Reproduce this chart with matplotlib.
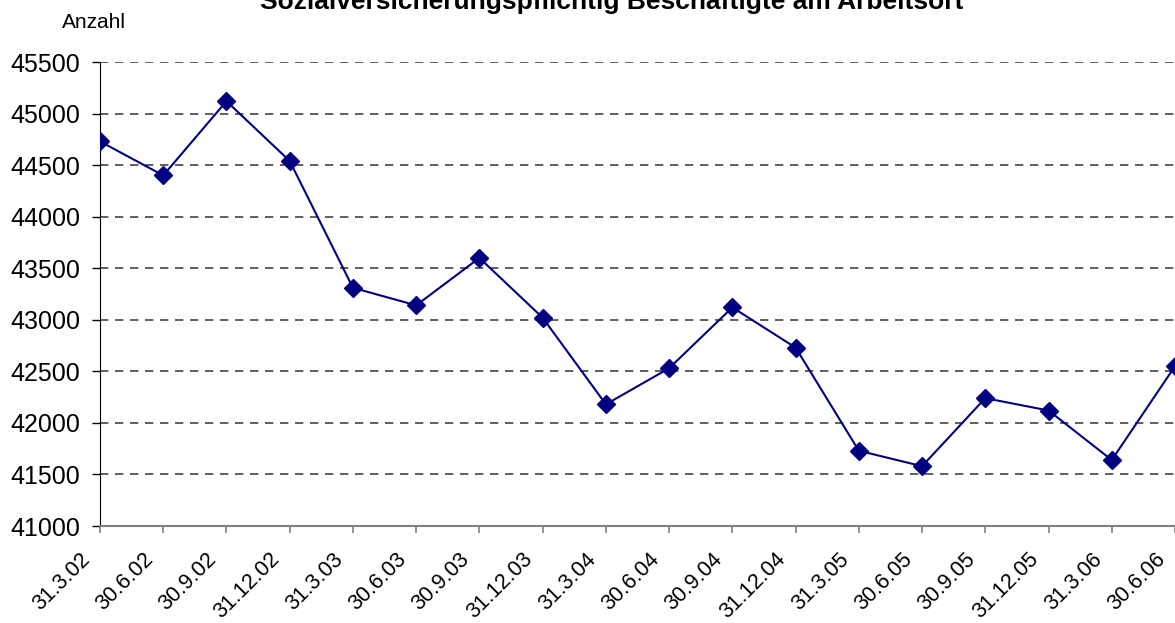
import matplotlib

matplotlib.use("Agg")
import matplotlib.pyplot as plt

# Quarterly reporting dates and employee counts
dates = [
    "31.3.02", "30.6.02", "30.9.02", "31.12.02",
    "31.3.03", "30.6.03", "30.9.03", "31.12.03",
    "31.3.04", "30.6.04", "30.9.04", "31.12.04",
    "31.3.05", "30.6.05", "30.9.05", "31.12.05",
    "31.3.06", "30.6.06",
]
employees = [
    44730, 44400, 45120, 44540,
    43310, 43140, 43600, 43020,
    42180, 42530, 43120, 42730,
    41730, 41580, 42240, 42120,
    41640, 42550,
]
y_ticks = list(range(41000, 45501, 500))

title = "Sozialversicherungspflichtig Beschäftigte am Arbeitsort"
y_label = "Anzahl"

plt.rcParams["font.family"] = ["Liberation Sans", "DejaVu Sans"]

W, H = 1175, 623
fig = plt.figure(figsize=(W / 100, H / 100), dpi=100)
# axes box in pixels: left 100, bottom 526, top 62, right edge of image
ax = fig.add_axes([100 / W, (H - 526) / H, (W - 100) / W, (526 - 62) / H])

x = list(range(len(dates)))
ax.plot(x, employees, color="#000080", lw=1.5, marker="D", ms=9,
        clip_on=True, zorder=3)

ax.set_xlim(0, len(dates) - 1)
ax.set_ylim(y_ticks[0], y_ticks[-1])
ax.set_yticks(y_ticks)
ax.set_yticklabels([str(v) for v in y_ticks], fontsize=18)
ax.set_xticks(x)
ax.set_xticklabels([])

# Excel-style rotated date labels: baseline end sits left of and below the tick
for i, d in enumerate(dates):
    ax.annotate(d, xy=(i, 0), xycoords=("data", "axes fraction"),
                xytext=(-9, -34), textcoords="offset pixels",
                rotation=45, rotation_mode="anchor", ha="right",
                va="baseline", fontsize=15.5, annotation_clip=False)

ax.grid(axis="y", color="#444444", ls=(0, (5, 4)), lw=1.2)
ax.set_axisbelow(True)

for side in ("top", "right"):
    ax.spines[side].set_visible(False)
ax.spines["left"].set_color("black")
ax.spines["bottom"].set_color("#808080")
ax.spines["bottom"].set_linewidth(1.5)
ax.tick_params(axis="y", length=6, width=1, color="black", pad=8)
ax.tick_params(axis="x", length=5, width=1.2, color="#808080")

fig.text(62 / W, 1 - 22 / H, y_label, fontsize=15, ha="left", va="center")
fig.text(0.521, 1 - 9 / H, title, fontsize=19, fontweight="bold",
         ha="center", va="baseline")

fig.savefig("out.png", dpi=100)
